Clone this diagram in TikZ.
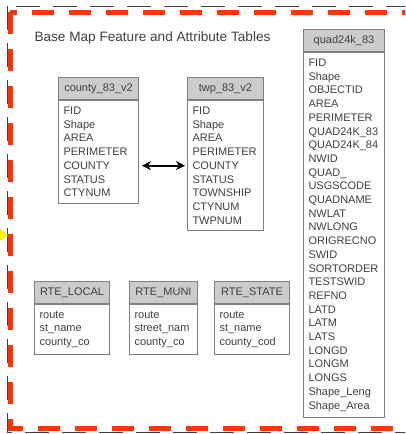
\documentclass[tikz,border=0pt]{standalone}
\usepackage{fontspec}
\setmainfont{Liberation Sans}
\usepackage{tikz}
\usetikzlibrary{arrows.meta, positioning}
\definecolor{headgray}{RGB}{204, 204, 204}
\definecolor{boxgray}{RGB}{128, 128, 128}
\definecolor{txtgray}{RGB}{64, 64, 64}
\definecolor{framered}{RGB}{255, 51, 0}

\begin{document}
\begin{tikzpicture}[
    x=1pt, y=-1pt,
    tblhead/.style={draw=boxgray, fill=headgray, line width=1pt, minimum width=#1, minimum height=22pt, inner sep=0pt, anchor=north west, text=txtgray, font=\fontsize{11}{13.7}\selectfont},
    tblbody/.style={draw=boxgray, fill=white, line width=1pt, text width={#1-10pt}, inner xsep=5pt, inner ysep=6.5pt, anchor=north, align=left, text=txtgray, font=\fontsize{11}{13.7}\selectfont},
    linkarrow/.style={{Stealth[length=9pt,width=9pt]}-{Stealth[length=9pt,width=9pt]}, line width=2pt, shorten <=3pt, shorten >=2pt}
]
\useasboundingbox (0,0) rectangle (405,434);
\clip (0,0) rectangle (405,434);

% Page frame
\draw[txtgray, line width=1pt, dash pattern=on 24pt off 13pt] (7,6) rectangle (430,432);
\draw[framered, line width=5pt, dash pattern=on 22pt off 15pt] (10,12) rectangle (430,428);
\fill[yellow] (0,229) -- (8,235) -- (0,241) -- cycle;

% Title
\node[anchor=west, text=txtgray, font=\fontsize{13.6}{16}\selectfont] (title) at (31,38) {Base Map Feature and Attribute Tables};

% Feature tables
\node[tblhead=80pt] (countyh) at (58,77) {county\_83\_v2};
\node[tblbody=80pt] (countyb) at (countyh.south) {FID\\Shape\\AREA\\PERIMETER\\COUNTY\\STATUS\\CTYNUM};

\node[tblhead=76pt] (twph) at (187,77) {twp\_83\_v2};
\node[tblbody=76pt] (twpb) at (twph.south) {FID\\Shape\\AREA\\PERIMETER\\COUNTY\\STATUS\\TOWNSHIP\\CTYNUM\\TWPNUM};

\node[tblhead=81pt] (quadh) at (303,29) {quad24k\_83};
\node[tblbody=81pt] (quadb) at (quadh.south) {FID\\Shape\\OBJECTID\\AREA\\PERIMETER\\QUAD24K\_83\\QUAD24K\_84\\NWID\\QUAD\_\\USGSCODE\\QUADNAME\\NWLAT\\NWLONG\\ORIGRECNO\\SWID\\SORTORDER\\TESTSWID\\REFNO\\LATD\\LATM\\LATS\\LONGD\\LONGM\\LONGS\\Shape\_Leng\\Shape\_Area};

% Route tables
\node[tblhead=75pt] (localh) at (34,281) {RTE\_LOCAL};
\node[tblbody=75pt] (localb) at (localh.south) {route\\st\_name\\county\_co};

\node[tblhead=68pt] (munih) at (129,281) {RTE\_MUNI};
\node[tblbody=68pt] (munib) at (munih.south) {route\\street\_nam\\county\_co};

\node[tblhead=75pt] (stateh) at (214,281) {RTE\_STATE};
\node[tblbody=75pt] (stateb) at (stateh.south) {route\\st\_name\\county\_cod};

% Relationship
\draw[linkarrow] (countyb.east |- twpb.west) -- (twpb.west);

\end{tikzpicture}
\end{document}
